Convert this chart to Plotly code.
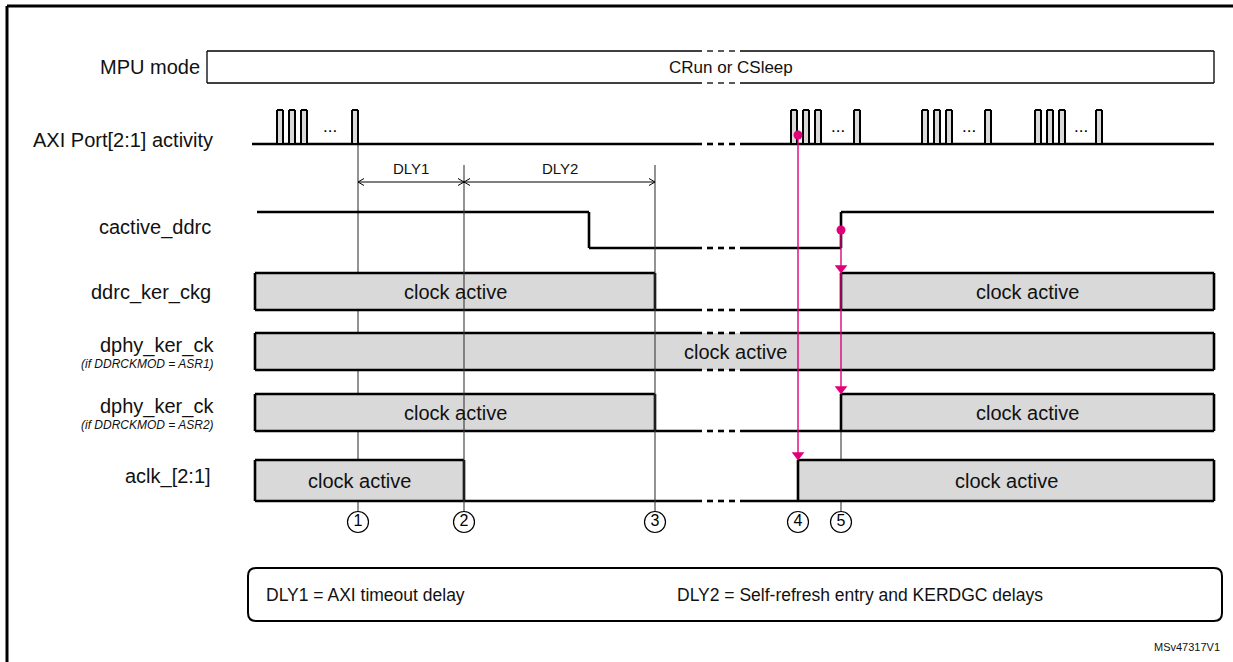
import plotly.graph_objects as go

# ------------------------------------------------------------------ data
SIGNALS = ["MPU mode", "AXI Port[2:1] activity", "cactive_ddrc", "ddrc_ker_ckg",
           "dphy_ker_ck", "dphy_ker_ck", "aclk_[2:1]"]
SIGNAL_NOTES = ["", "", "", "", "(if DDRCKMOD = ASR1)", "(if DDRCKMOD = ASR2)", ""]
MPU_MODE_TEXT = "CRun or CSleep"
CLOCK_TEXT = "clock active"

EVENT_LABELS = ["1", "2", "3", "4", "5"]
EVENT_T = [358, 464, 655, 798, 841]          # time of events 1..5

T_START = 255
T_END = 1214
BREAK_T = [702, 740]                          # time-axis break ("- - -")

AXI_BURST_FIRST = [277, 791, 922, 1035]       # first pulse of each burst
AXI_BURST_LAST = [352, 854, 985, 1096]        # last pulse of each burst
AXI_PULSES_PER_BURST = 3
AXI_START = 252

CACTIVE_T = [257, 589, 841, 1214]             # level change times
CACTIVE_LEVEL = [1, 0, 1]                     # level between changes

DDRC_KER_ON = [(255, 655), (841, 1214)]
DPHY_ASR1_ON = [(255, 1214)]
DPHY_ASR2_ON = [(255, 655), (841, 1214)]
ACLK_ON = [(255, 464), (798, 1214)]

DLY_NAMES = ["DLY1", "DLY2"]
DLY_SPANS = [(358, 464), (464, 655)]
LEGEND_TEXTS = ["DLY1 = AXI timeout delay", "DLY2 = Self-refresh entry and KERDGC delays"]
FIG_ID = "MSv47317V1"

# ------------------------------------------------------------------ layout / style
W, H = 1233, 662
ROW = {  # (top, bottom) pixel rows
    "mpu": (51, 83), "axi": (110, 144), "cactive": (212, 248), "ddrc": (273, 310),
    "asr1": (333, 370), "asr2": (394, 431), "aclk": (460, 501),
}
LABEL_POS = [(202, 67), (215, 140), (213, 227), (213, 292), (216, 345), (216, 406), (213, 476)]
NOTE_DY = 19
FONT = "Liberation Sans, Arial, sans-serif"
GRAY = "#d9d9d9"
MAG = "#e2007a"
EV_COL = "#3a3a3a"
WLW = 2.6
PULSE_W, PULSE_PITCH = 6, 12
DASH, NDASH = 6, 3
NUM_Y = 522

fig = go.Figure()


def add_line(xs, ys, color="black", width=WLW, **kw):
    fig.add_trace(go.Scatter(x=xs, y=ys, mode="lines", hoverinfo="skip",
                             line=dict(color=color, width=width), showlegend=False, **kw))


def hsegs(x0, x1, brk=BREAK_T):
    """Horizontal segments between x0 and x1, broken by the time-axis break."""
    b0, b1 = brk
    if x1 <= b0 or x0 >= b1:
        return [(x0, x1)]
    segs = []
    if x0 < b0:
        segs.append((x0, b0))
    gap = (b1 - b0 - NDASH * DASH) / (NDASH + 1)
    for i in range(NDASH):
        s = b0 + gap + i * (DASH + gap)
        segs.append((s, s + DASH))
    if x1 > b1:
        segs.append((b1, x1))
    return segs


def seg_xy(segs, y):
    xs, ys = [], []
    for a, b in segs:
        xs += [a, b, None]
        ys += [y, y, None]
    return xs, ys


def hline(x0, x1, y, color="black", width=WLW):
    xs, ys = seg_xy(hsegs(x0, x1), y)
    add_line(xs, ys, color, width)


def box(x0, x1, row, fill=GRAY, width=WLW):
    top, bot = ROW[row]
    fig.add_trace(go.Scatter(x=[x0, x1, x1, x0, x0], y=[bot, bot, top, top, bot], mode="lines",
                             fill="toself", fillcolor=fill, line=dict(width=0),
                             hoverinfo="skip", showlegend=False))
    hline(x0, x1, top, width=width)
    hline(x0, x1, bot, width=width)
    add_line([x0, x0, None, x1, x1], [top, bot, None, top, bot], width=width)


def clock(row, windows):
    bot = ROW[row][1]
    prev = None
    for (s, e) in windows:
        box(s, e, row)
        if prev is not None:
            hline(prev, s, bot)
        prev = e
    if prev < T_END:
        hline(prev, T_END, bot)


# --- event lines drawn behind the boxes (1 and 5)
add_line([EVENT_T[0], EVENT_T[0]], [ROW["axi"][1], NUM_Y - 10], EV_COL, 1.1)
add_line([EVENT_T[4], EVENT_T[4]], [ROW["asr2"][1], NUM_Y - 10], EV_COL, 1.1)

# --- MPU mode box
box(207, T_END, "mpu", fill="white", width=1.3)

# --- AXI activity
hline(AXI_START, T_END, ROW["axi"][1])
for first, last in zip(AXI_BURST_FIRST, AXI_BURST_LAST):
    starts = [first + k * PULSE_PITCH for k in range(AXI_PULSES_PER_BURST)] + [last]
    for s in starts:
        box(s, s + PULSE_W, "axi", width=2)
    mid = (first + (AXI_PULSES_PER_BURST - 1) * PULSE_PITCH + PULSE_W + last) / 2
    fig.add_annotation(x=mid, y=126, text="...", showarrow=False,
                       font=dict(family=FONT, size=17, color="black"))

# --- cactive_ddrc
top, bot = ROW["cactive"]
lev_y = {1: top, 0: bot}
for i, lev in enumerate(CACTIVE_LEVEL):
    hline(CACTIVE_T[i], CACTIVE_T[i + 1], lev_y[lev])
    if i + 1 < len(CACTIVE_LEVEL):
        add_line([CACTIVE_T[i + 1], CACTIVE_T[i + 1]], [top, bot])

# --- clocks
clock("ddrc", DDRC_KER_ON)
clock("asr1", DPHY_ASR1_ON)
clock("asr2", DPHY_ASR2_ON)
clock("aclk", ACLK_ON)

# clock-active texts centred in each window
for row, wins in [("ddrc", DDRC_KER_ON), ("asr1", DPHY_ASR1_ON),
                  ("asr2", DPHY_ASR2_ON), ("aclk", ACLK_ON)]:
    t, b = ROW[row]
    for s, e in wins:
        cx = (s + e) / 2 if row != "asr1" else (s + e) / 2 + 1
        fig.add_annotation(x=cx, y=(t + b) / 2, text=CLOCK_TEXT, showarrow=False,
                           font=dict(family=FONT, size=20, color="#111"))

fig.add_annotation(x=731, y=sum(ROW["mpu"]) / 2, text=MPU_MODE_TEXT,
                   showarrow=False, font=dict(family=FONT, size=17, color="#111"))

# --- event lines drawn above (2 and 3)
for t in EVENT_T[1:3]:
    add_line([t, t], [165, NUM_Y - 10], EV_COL, 1.1)

# --- DLY arrows
ay = 182
for name, (a, b) in zip(DLY_NAMES, DLY_SPANS):
    add_line([a, b], [ay, ay], "black", 1)
    add_line([a + 6, a, a + 6], [ay - 3.5, ay, ay + 3.5], "black", 1)
    add_line([b - 6, b, b - 6], [ay - 3.5, ay, ay + 3.5], "black", 1)
    fig.add_annotation(x=(a + b) / 2, y=168, text=name, showarrow=False,
                       font=dict(family=FONT, size=15, color="#111"))

# --- magenta causality arrows
axi_dot_y = 135
cact_dot_y = (ROW["cactive"][0] + ROW["cactive"][1]) / 2
add_line([EVENT_T[3], EVENT_T[3]], [axi_dot_y, ROW["aclk"][0]], MAG, 1.4)
add_line([EVENT_T[4], EVENT_T[4]], [cact_dot_y, ROW["asr2"][0]], MAG, 1.4)
fig.add_trace(go.Scatter(x=[EVENT_T[3], EVENT_T[4]], y=[axi_dot_y, cact_dot_y], mode="markers",
                         marker=dict(color=MAG, size=9), hoverinfo="skip", showlegend=False))
fig.add_trace(go.Scatter(x=[EVENT_T[4], EVENT_T[4], EVENT_T[3]],
                         y=[ROW["ddrc"][0] - 5, ROW["asr2"][0] - 5, ROW["aclk"][0] - 5],
                         mode="markers", marker=dict(color=MAG, size=11, symbol="triangle-down"),
                         hoverinfo="skip", showlegend=False))

# --- event numbers (circled)
fig.add_trace(go.Scatter(x=EVENT_T, y=[NUM_Y] * len(EVENT_T), mode="markers+text",
                         text=EVENT_LABELS, textposition="middle center",
                         textfont=dict(family=FONT, size=16, color="black"),
                         marker=dict(symbol="circle", size=21, color="white",
                                     line=dict(color="black", width=1.2)),
                         hoverinfo="skip", showlegend=False))

# --- signal labels
for name, note, (lx, ly) in zip(SIGNALS, SIGNAL_NOTES, LABEL_POS):
    fig.add_annotation(x=lx, y=ly, text=name, showarrow=False, xanchor="right",
                       font=dict(family=FONT, size=20, color="#111"))
    if note:
        fig.add_annotation(x=lx, y=ly + NOTE_DY, text=f"<i>{note}</i>", showarrow=False,
                           xanchor="right", font=dict(family=FONT, size=12, color="#111"))

# --- legend box
x0, x1, y0, y1, r = 248, 1222, 568, 621, 8
path = (f"M {x0+r},{y0} L {x1-r},{y0} Q {x1},{y0} {x1},{y0+r} L {x1},{y1-r} "
        f"Q {x1},{y1} {x1-r},{y1} L {x0+r},{y1} Q {x0},{y1} {x0},{y1-r} "
        f"L {x0},{y0+r} Q {x0},{y0} {x0+r},{y0} Z")
fig.add_shape(type="path", path=path, xref="x", yref="y", line=dict(color="black", width=2))
fig.add_annotation(x=264, y=595, text=LEGEND_TEXTS[0], showarrow=False, xanchor="left",
                   font=dict(family=FONT, size=17.5, color="#111"))
fig.add_annotation(x=675, y=595, text=LEGEND_TEXTS[1], showarrow=False, xanchor="left",
                   font=dict(family=FONT, size=17.5, color="#111"))
fig.add_annotation(x=1222, y=647, text=FIG_ID, showarrow=False, xanchor="right",
                   font=dict(family=FONT, size=11, color="#111"))

# --- outer frame
fig.add_shape(type="line", x0=7, x1=W + 5, y0=6, y1=6, xref="x", yref="y",
              line=dict(color="black", width=3))
fig.add_shape(type="line", x0=7, x1=7, y0=6, y1=H + 5, xref="x", yref="y",
              line=dict(color="black", width=3))

fig.update_layout(
    width=W, height=H, margin=dict(l=0, r=0, t=0, b=0),
    paper_bgcolor="white", plot_bgcolor="white", showlegend=False,
    xaxis=dict(range=[0, W], visible=False, fixedrange=True),
    yaxis=dict(range=[H, 0], visible=False, fixedrange=True),
)

fig.write_html("out.html", post_script="document.body.style.margin='0';",
               config={"displayModeBar": False})
